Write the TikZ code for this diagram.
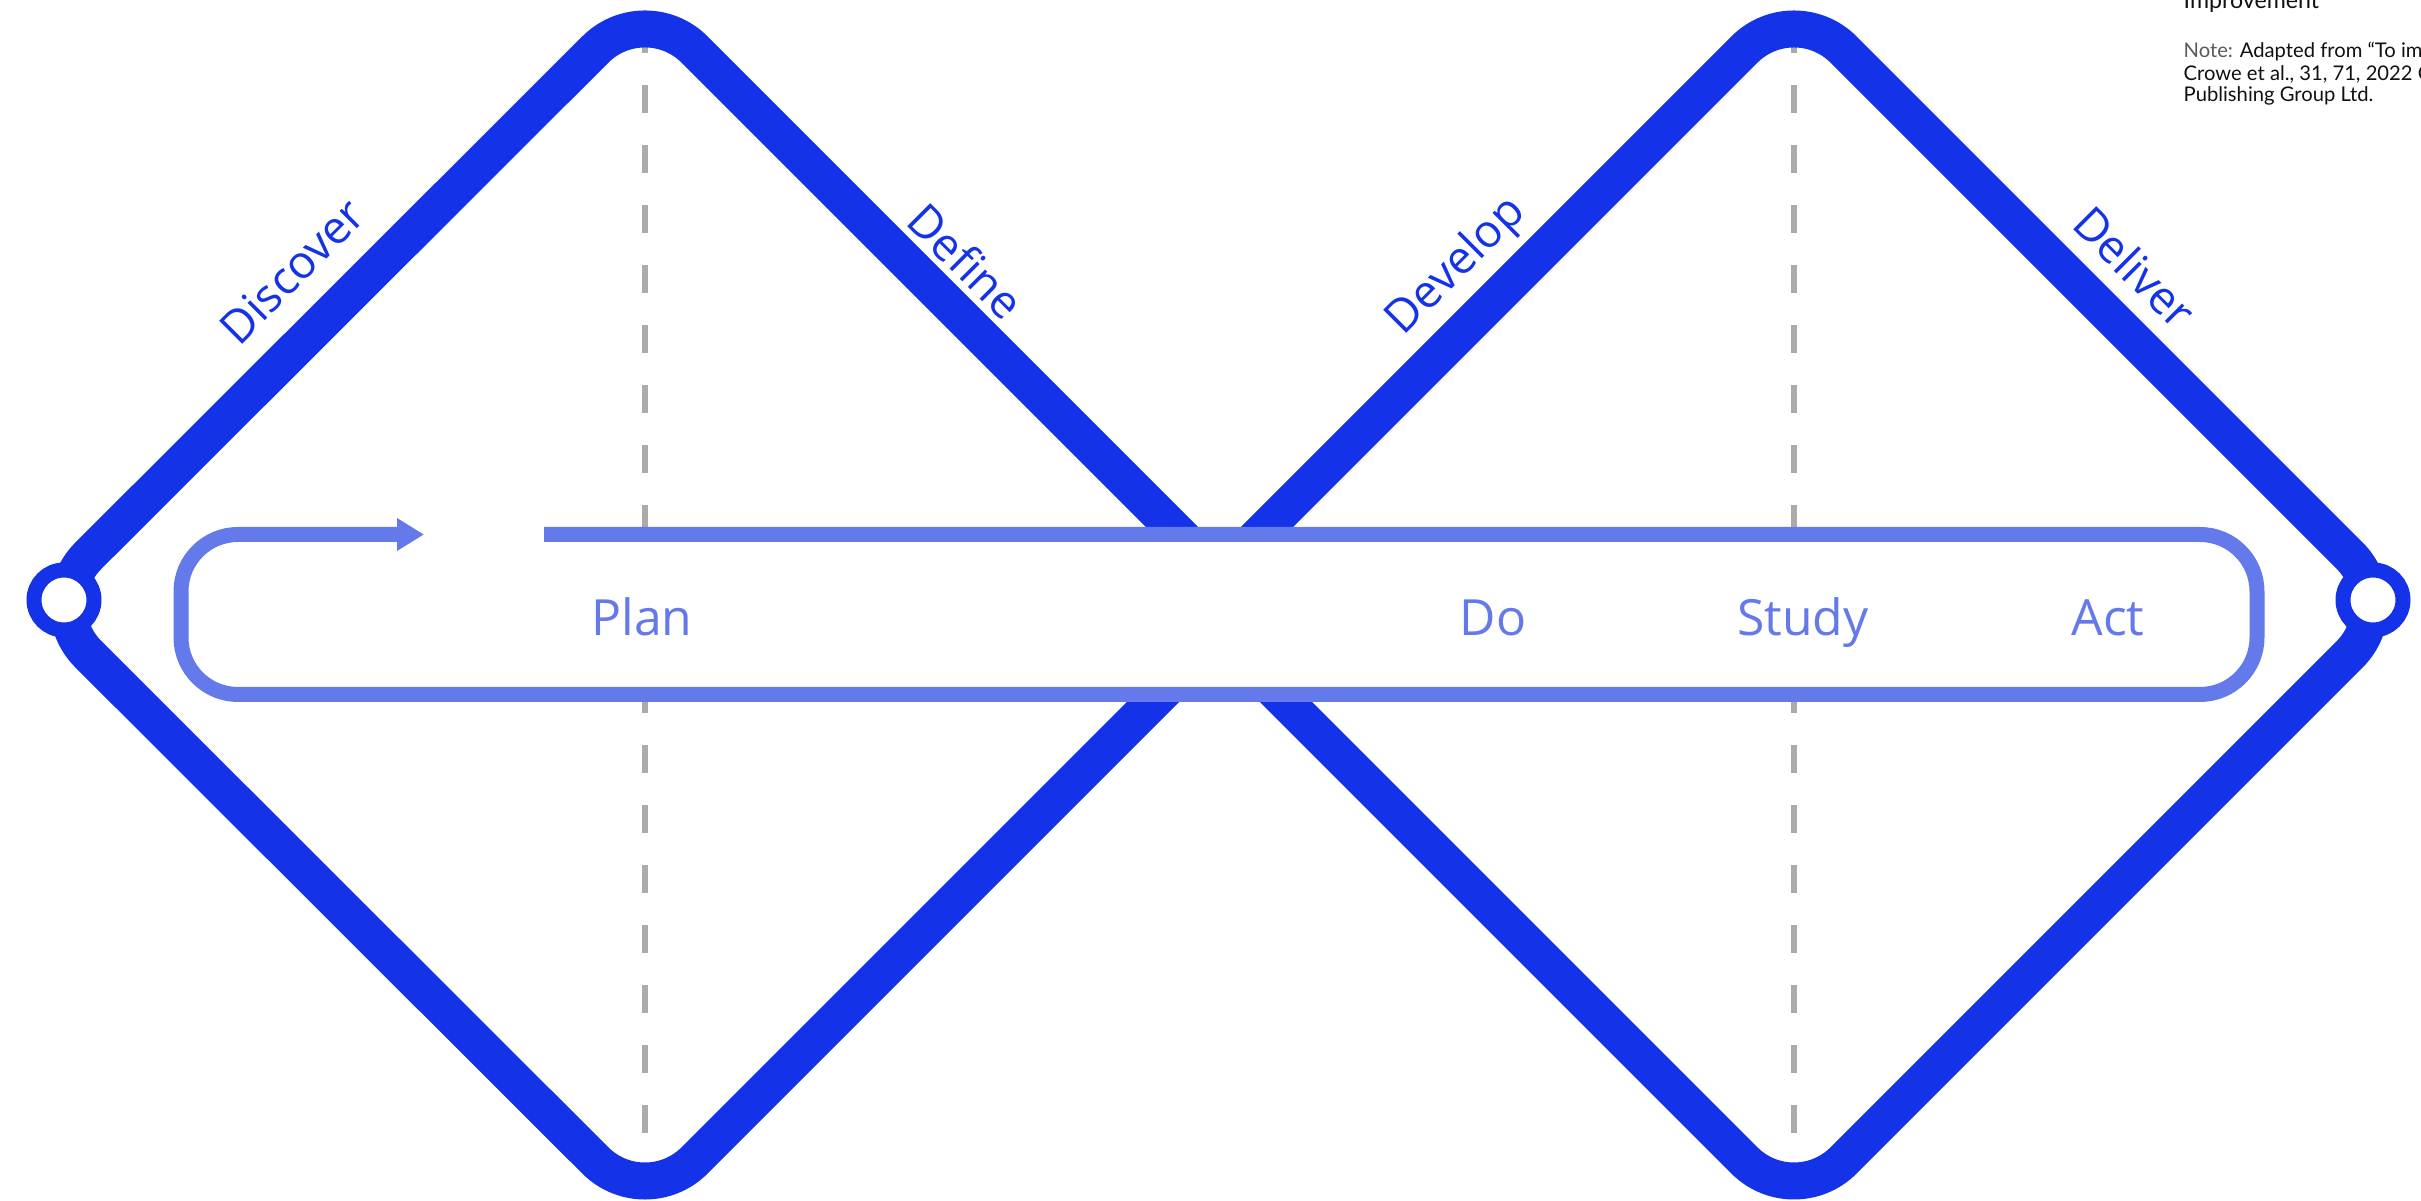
\documentclass[tikz,border=0pt]{standalone}
\usepackage{fontspec}
\setmainfont{Open Sans}
\newfontfamily\notefont{Lato}
\usetikzlibrary{arrows.meta}
\definecolor{dblue}{HTML}{1433E8}
\definecolor{lblue}{HTML}{6479EA}
\definecolor{dashgray}{HTML}{ABABAB}
\definecolor{notegray}{HTML}{5A5A5A}
\definecolor{noteblack}{HTML}{111111}
\begin{document}
\begin{tikzpicture}[x=0.1mm,y=-0.1mm,
  diamondline/.style={draw=dblue,line width=3.7mm,rounded corners=7mm,line join=round},
  dashline/.style={draw=dashgray,line width=0.65mm,dash pattern=on 2.8mm off 3.2mm},
  pdsaline/.style={draw=lblue,line width=1.5mm,rounded corners=5.7mm},
  ring/.style={circle,draw=dblue,fill=white,line width=1.5mm,minimum size=6mm,inner sep=0pt},
  diaglabel/.style={text=dblue,font=\fontsize{13pt}{15pt}\selectfont,inner sep=0pt},
  pdsalabel/.style={text=lblue,font=\fontsize{14.2pt}{17pt}\selectfont,inner sep=0pt,anchor=base},
  notetext/.style={text=noteblack,font=\notefont\fontsize{5.75pt}{7pt}\selectfont,inner sep=0pt,anchor=base west}
]
\useasboundingbox (0,0) rectangle (2421,1201);
% dashed centre lines
\coordinate (lt) at (645,25);
\coordinate (lb) at (645,1190);
\coordinate (rt) at (1794,25);
\coordinate (rb) at (1794,1190);
\draw[dashline] (lt) -- (lb);
\draw[dashline] (rt) -- (rb);
% left diamond
\coordinate (LW) at (39,605);
\coordinate (LN) at (645,0);
\coordinate (LE) at (1250,605);
\coordinate (LS) at (645,1210);
\draw[diamondline] (342,302.5) -- (LN) -- (LE) -- (LS) -- (LW) -- cycle;
% right diamond
\coordinate (RW) at (1189,605);
\coordinate (RN) at (1794,0);
\coordinate (RE) at (2399,605);
\coordinate (RS) at (1794,1210);
\draw[diamondline] (1491.5,302.5) -- (RN) -- (RE) -- (RS) -- (RW) -- cycle;
% PDSA loop
\fill[white,rounded corners=5.7mm] (181,534.5) rectangle (2257,694.5);
\coordinate (ps) at (544,534.5);
\coordinate (pne) at (2257,534.5);
\coordinate (pse) at (2257,694.5);
\coordinate (psw) at (181,694.5);
\coordinate (pnw) at (181,534.5);
\coordinate (pe) at (424,534.5);
\draw[pdsaline,-{Triangle[length=2.7mm,width=3.1mm]}] (ps) -- (pne) -- (pse) -- (psw) -- (pnw) -- (pe);
% end rings
\node[ring] (lring) at (64,600) {};
\node[ring] (rring) at (2373,600) {};
% diagonal labels
\node[diaglabel,rotate=45] (discover) at (292,271) {Discover};
\node[diaglabel,rotate=-45] (define) at (966,261) {Define};
\node[diaglabel,rotate=45] (develop) at (1457,267) {Develop};
\node[diaglabel,rotate=-45] (deliver) at (2135,267) {Deliver};
% PDSA labels
\node[pdsalabel] (plan) at (642,636) {Plan};
\node[pdsalabel] (do) at (1493,636) {Do};
\node[pdsalabel] (study) at (1803,636) {Study};
\node[pdsalabel] (act) at (2108,636) {Act};
% note
\node[notetext,font=\notefont\fontsize{6.6pt}{7.5pt}\selectfont] (title) at (2183,9) {Improvement};
\node[notetext] (note1) at (2183,58) {{\color{notegray}Note:} Adapted from “To imp};
\node[notetext] (note2) at (2183,81) {Crowe et al., 31, 71, 2022 C};
\node[notetext] (note3) at (2183,102) {Publishing Group Ltd.};
\end{tikzpicture}
\end{document}
